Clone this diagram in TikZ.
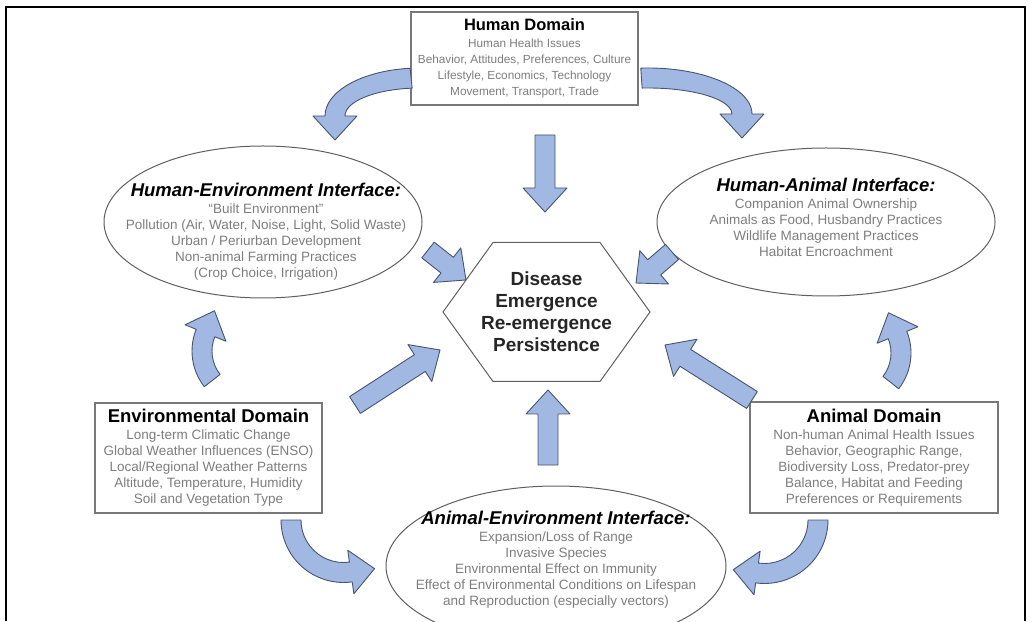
\documentclass[tikz,border=0pt]{standalone}
\usepackage{fontspec}
\setmainfont{Liberation Sans}
\usepackage{xcolor}
\usetikzlibrary{shapes,calc}

\definecolor{arrowfill}{RGB}{160,184,226}
\definecolor{arrowedge}{RGB}{72,84,112}
\definecolor{textgray}{RGB}{125,125,125}
\definecolor{edgegray}{RGB}{120,120,120}
\definecolor{ovalgray}{RGB}{95,95,95}

\newcommand{\titlefont}{\fontsize{18.5}{22}\selectfont\bfseries}
\newcommand{\ovaltitle}{\fontsize{18.5}{22}\selectfont\bfseries\itshape}
\newcommand{\bodyfont}{\fontsize{13.5}{16}\selectfont}
\newcommand{\smalltitle}{\fontsize{16.5}{20}\selectfont\bfseries}
\newcommand{\smallbody}{\fontsize{11.8}{16}\selectfont}
\newcommand{\shaftw}{10}
\newcommand{\headw}{22}
\newcommand{\headl}{24}

\tikzset{
  domainbox/.style={draw=edgegray, line width=1.2pt, rectangle, inner sep=0pt,
    align=center, font=\bodyfont, text=textgray},
  interface/.style={draw=ovalgray, line width=1pt, ellipse, inner sep=0pt},
  ovaltext/.style={align=center, font=\bodyfont, text=textgray, inner sep=0pt},
  arrowbody/.style={fill=arrowfill, draw=arrowedge, line width=0.9pt, line join=round},
}

% straight block arrow from #1 to #2
\newcommand{\flowarrow}[2]{%
  \coordinate (h) at ($(#2)!\headl pt!(#1)$);
  \filldraw[arrowbody] ($(#1)!\shaftw pt!90:(#2)$) -- ($(h)!\shaftw pt!90:(#2)$)
    -- ($(h)!\headw pt!90:(#2)$) -- (#2) -- ($(h)!\headw pt!-90:(#2)$)
    -- ($(h)!\shaftw pt!-90:(#2)$) -- ($(#1)!\shaftw pt!-90:(#2)$) -- cycle;}

% bent block arrow: centre, x radius, y radius, start angle, end angle, turn (1 or -1)
\newcommand{\bentarrow}[6]{%
  \begin{scope}[shift={(#1)}]
  \filldraw[arrowbody] (#4:{#2+\shaftw} and {#3+\shaftw})
    arc[start angle=#4, end angle=#5, x radius={#2+\shaftw}, y radius={#3+\shaftw}]
    -- (#5:{#2+\headw} and {#3+\headw})
    -- ({#2*cos(#5)-(#6)*\headl*#2*sin(#5)/sqrt((#2*sin(#5))^2+(#3*cos(#5))^2)},
        {#3*sin(#5)+(#6)*\headl*#3*cos(#5)/sqrt((#2*sin(#5))^2+(#3*cos(#5))^2)})
    -- (#5:{#2-\headw} and {#3-\headw}) -- (#5:{#2-\shaftw} and {#3-\shaftw})
    arc[start angle=#5, end angle=#4, x radius={#2-\shaftw}, y radius={#3-\shaftw}] -- cycle;
  \end{scope}}

\begin{document}
\begin{tikzpicture}[x=1pt,y=1pt]
\useasboundingbox (0,0) rectangle (1032,621);
\draw[black, line width=1.3pt] (6,0) -- (6,614) -- (1025,614) -- (1025,0);

% domains
\node[domainbox, font=\smallbody, minimum width=227pt, minimum height=93pt] (human) at (524.5,562.5)
  {{\smalltitle\color{black}Human Domain}\\[1pt]
   Human Health Issues\\ Behavior, Attitudes, Preferences, Culture\\
   Lifestyle, Economics, Technology\\ Movement, Transport, Trade};
\node[domainbox, minimum width=227pt, minimum height=110pt] (env) at (208.5,163)
  {{\titlefont\color{black}Environmental Domain}\\[1pt]
   Long-term Climatic Change\\ Global Weather Influences (ENSO)\\
   Local/Regional Weather Patterns\\ Altitude, Temperature, Humidity\\
   Soil and Vegetation Type};
\node[domainbox, minimum width=248pt, minimum height=111pt] (animal) at (874,163.5)
  {{\titlefont\color{black}Animal Domain}\\[1pt]
   Non-human Animal Health Issues\\ Behavior, Geographic Range,\\
   Biodiversity Loss, Predator-prey\\ Balance, Habitat and Feeding\\
   Preferences or Requirements};

% interfaces
\node[interface, minimum width=318pt, minimum height=152pt] (heoval) at (263,399) {};
\node[ovaltext] (helabel) at (266,389)
  {{\ovaltitle\color{black}Human-Environment Interface:}\\[1pt]
   ``Built Environment''\\ Pollution (Air, Water, Noise, Light, Solid Waste)\\
   Urban / Periurban Development\\ Non-animal Farming Practices\\
   (Crop Choice, Irrigation)};
\node[interface, minimum width=338pt, minimum height=148pt] (haoval) at (826,399) {};
\node[ovaltext] (halabel) at (826,404)
  {{\ovaltitle\color{black}Human-Animal Interface:}\\[1pt]
   Companion Animal Ownership\\ Animals as Food, Husbandry Practices\\
   Wildlife Management Practices\\ Habitat Encroachment};
\node[interface, minimum width=340pt, minimum height=160pt] (aeoval) at (556,55) {};
\node[ovaltext] (aelabel) at (556,61)
  {{\ovaltitle\color{black}Animal-Environment Interface:}\\[1pt]
   Expansion/Loss of Range\\ Invasive Species\\
   Environmental Effect on Immunity\\
   Effect of Environmental Conditions on Lifespan\\
   and Reproduction (especially vectors)};

% centre
\node[align=center, font=\fontsize{19}{22}\selectfont\bfseries, text={black!85}] (hub) at (546.5,309)
  {Disease\\ Emergence\\ Re-emergence\\ Persistence};
\draw[ovalgray, line width=1pt, line join=miter] ($(hub)+(-103.5,0)$) -- ($(hub)+(-53.5,69.5)$)
  -- ($(hub)+(53.5,69.5)$) -- ($(hub)+(103.5,0)$) -- ($(hub)+(53.5,-69.5)$)
  -- ($(hub)+(-53.5,-69.5)$) -- cycle;

% straight arrows into the centre
\coordinate (t1) at (545,486); \coordinate (p1) at (545,409);
\coordinate (t2) at (428,371); \coordinate (p2) at (466,341);
\coordinate (t3) at (672,369); \coordinate (p3) at (636,338);
\coordinate (t4) at (355,216); \coordinate (p4) at (440,271);
\coordinate (t5) at (752,221); \coordinate (p5) at (665,276);
\coordinate (t6) at (548,156); \coordinate (p6) at (548,231);
\flowarrow{t1}{p1}
\flowarrow{t2}{p2}
\flowarrow{t3}{p3}
\flowarrow{t4}{p4}
\flowarrow{t5}{p5}
\flowarrow{t6}{p6}

% bent arrows between domains and interfaces
\bentarrow{420,505}{85}{38}{96}{180}{1}
\bentarrow{648,507}{94}{36}{94}{0}{-1}
\bentarrow{250,270}{48}{48}{218}{158}{-1}
\bentarrow{853,268}{48}{48}{-38}{22}{1}
\bentarrow{343.5,101}{52.5}{52.5}{180}{278}{1}
\bentarrow{764.5,101}{53.5}{53.5}{0}{-98}{-1}
\end{tikzpicture}
\end{document}
